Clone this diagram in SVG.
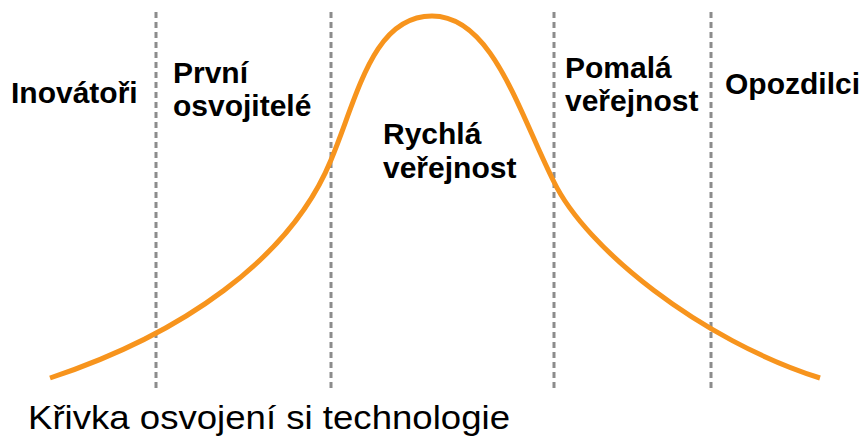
<svg xmlns="http://www.w3.org/2000/svg" width="868" height="440" viewBox="0 0 868 440">
  <style>
    .div { stroke: #8c8c8c; stroke-width: 3; stroke-dasharray: 6 4; fill: none; }
    .curve { stroke: #f7941d; stroke-width: 5; fill: none; stroke-linecap: butt; }
    .lbl { font-family: "Liberation Sans", Arial, sans-serif; font-weight: bold; font-size: 30px; fill: #000; }
    .title { font-family: "Liberation Sans", Arial, sans-serif; font-size: 33px; fill: #000; }
  </style>
  <rect width="868" height="440" fill="#ffffff"/>
  <g id="dividers">
    <line class="div" x1="156" y1="12" x2="156" y2="389"/>
    <line class="div" x1="331" y1="12" x2="331" y2="389"/>
    <line class="div" x1="554" y1="12" x2="554" y2="389"/>
    <line class="div" x1="711" y1="12" x2="711" y2="389"/>
  </g>
  <g id="curve">
    <path class="curve" d="M50,378 C180,335 290,260 331,160 C358,95 373,16 432,16 C492,16 518,110 554,182 C586,248 700,340 820,378"/>
  </g>
  <g id="innovators"><text class="lbl" x="11" y="103">Inovátoři</text></g>
  <g id="early-adopters">
    <text class="lbl" x="173" y="83">První</text>
    <text class="lbl" x="173" y="116">osvojitelé</text>
  </g>
  <g id="early-majority">
    <text class="lbl" x="383" y="144">Rychlá</text>
    <text class="lbl" x="383" y="178">veřejnost</text>
  </g>
  <g id="late-majority">
    <text class="lbl" x="565" y="78">Pomalá</text>
    <text class="lbl" x="565" y="111">veřejnost</text>
  </g>
  <g id="laggards"><text class="lbl" x="725" y="94">Opozdilci</text></g>
  <g id="caption"><text class="title" x="28" y="429" textLength="482" lengthAdjust="spacingAndGlyphs">Křivka osvojení si technologie</text></g>
</svg>
